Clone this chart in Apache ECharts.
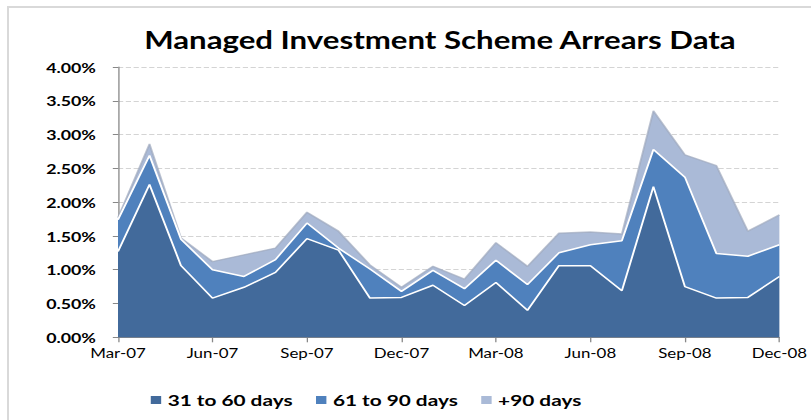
<!DOCTYPE html>
<html>
<head>
<meta charset="utf-8">
<script src="https://cdn.jsdelivr.net/npm/echarts@6/dist/echarts.min.js"></script>
<style>
  html, body { margin: 0; padding: 0; background: #fff; overflow: hidden; }
  #frame { position: absolute; left: 7px; top: 6px; width: 820px; height: 430px;
           border-left: 2px solid #d9d9d9; border-top: 2px solid #d9d9d9; }
  /* the reference is a horizontally stretched picture: draw at 624px and stretch to 811px */
  #chart { position: absolute; left: 0; top: 0; width: 624px; height: 420px;
           transform: scaleX(1.2997); transform-origin: 0 0; }
</style>
</head>
<body>
<div id="frame"></div>
<div id="chart"></div>
<script>
const months = ['Mar-07','Apr-07','May-07','Jun-07','Jul-07','Aug-07','Sep-07','Oct-07','Nov-07','Dec-07','Jan-08','Feb-08',
                'Mar-08','Apr-08','May-08','Jun-08','Jul-08','Aug-08','Sep-08','Oct-08','Nov-08','Dec-08'];
const days31to60 = [1.27,2.26,1.06,0.58,0.74,0.96,1.46,1.29,0.58,0.59,0.77,0.47,0.81,0.40,1.06,1.06,0.69,2.23,0.75,0.58,0.59,0.90];
const days61to90 = [0.47,0.43,0.39,0.42,0.16,0.19,0.23,0.03,0.43,0.09,0.22,0.25,0.33,0.38,0.19,0.31,0.74,0.55,1.62,0.66,0.61,0.47];
const days90plus = [0.03,0.17,0.02,0.12,0.32,0.17,0.16,0.25,0.06,0.06,0.06,0.14,0.26,0.27,0.29,0.19,0.10,0.57,0.33,1.30,0.37,0.44];
const seriesNames = ['31 to 60 days','61 to 90 days','+90 days'];

const FONT = 'Lato, "Open Sans", sans-serif';
const chart = echarts.init(document.getElementById('chart'), null, { renderer: 'svg' });

function areaSeries(name, data, fill, lineColor, z) {
  return {
    name: name, type: 'line', stack: 'total', data: data, symbol: 'none',
    lineStyle: { color: lineColor, width: 1.5 },
    areaStyle: { color: fill, opacity: 1 },
    itemStyle: { color: fill },
    z: z, emphasis: { disabled: true }
  };
}

chart.setOption({
  animation: false,
  backgroundColor: 'transparent',
  title: {
    text: 'Managed Investment Scheme Arrears Data',
    left: 333.5, top: 23, textAlign: 'center',
    textStyle: { fontFamily: FONT, fontWeight: 'bold', fontSize: 24, color: '#000' }
  },
  legend: {
    data: seriesNames, left: 111, top: 387, itemGap: 18,
    icon: 'rect', itemWidth: 8, itemHeight: 8,
    textStyle: { fontFamily: FONT, fontWeight: 'bold', fontSize: 16, color: '#000' }
  },
  grid: { left: 90.8, right: 21.3, top: 67, bottom: 82.7 },
  xAxis: {
    type: 'category', data: months, boundaryGap: false,
    axisLine: { lineStyle: { color: '#888', width: 1 } },
    axisTick: { interval: 2, length: 5, lineStyle: { color: '#888' } },
    axisLabel: { interval: 2, margin: 9, fontFamily: FONT, fontSize: 13, color: '#000' }
  },
  yAxis: {
    type: 'value', min: 0, max: 4, interval: 0.5,
    axisLine: { show: true, lineStyle: { color: '#888', width: 1 } },
    axisTick: { show: true, length: 4, lineStyle: { color: '#888' } },
    axisLabel: { margin: 17, fontFamily: FONT, fontWeight: 'bold', fontSize: 13.7, color: '#000',
                 formatter: v => v.toFixed(2) + '%' },
    splitLine: { lineStyle: { color: '#d4d4d4', type: 'dashed', width: 1 } }
  },
  series: [
    areaSeries(seriesNames[0], days31to60, '#426A9B', '#ffffff', 5),
    areaSeries(seriesNames[1], days61to90, '#4F81BD', '#ffffff', 4),
    areaSeries(seriesNames[2], days90plus, '#AABAD7', 'rgba(160,170,190,0.7)', 3)
  ]
});
</script>
</body>
</html>
